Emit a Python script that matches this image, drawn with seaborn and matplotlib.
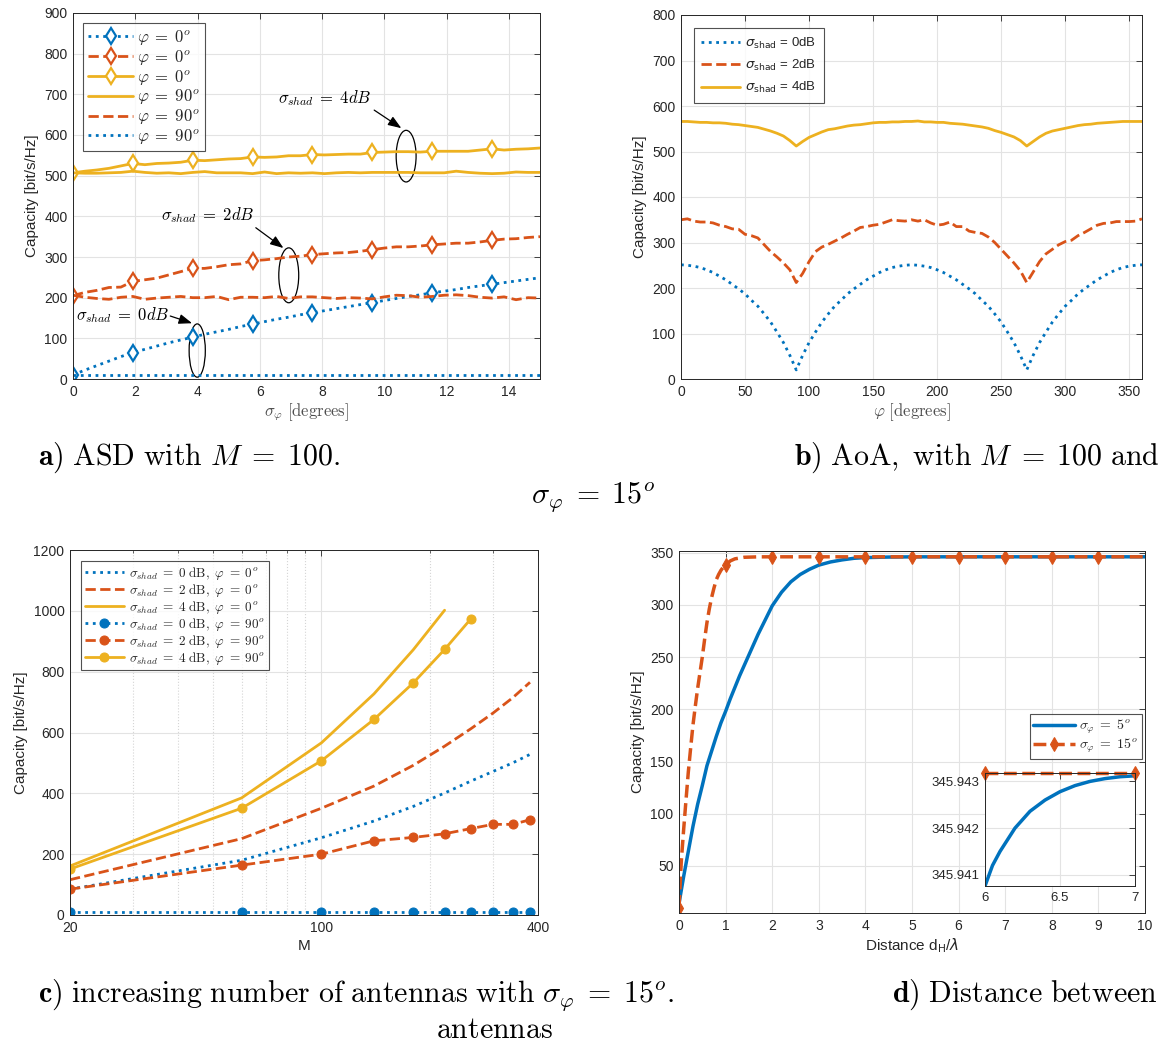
import numpy as np
import matplotlib
matplotlib.use('Agg')
import matplotlib.pyplot as plt
import seaborn as sns
from matplotlib.patches import Ellipse
from matplotlib.font_manager import FontProperties
from matplotlib.ticker import LogLocator, NullFormatter, FixedLocator, FixedFormatter

sns.set_style('white')
plt.rcParams['font.family'] = ['Liberation Sans', 'DejaVu Sans']
plt.rcParams['mathtext.fontset'] = 'cm'

BLUE = '#0072BD'
ORANGE = '#D95319'
YELLOW = '#EDB120'
DARK = '#262626'
GRID = '#e3e3e3'

# ---------------- Panel a data ----------------
asd_deg = np.linspace(0, 15, 40)
a_blue_phi0 = [10, 22, 33, 44, 55, 65, 73, 81, 89, 96, 103, 110, 116, 122, 129, 135, 141, 147, 152, 158,
               163, 168, 173, 178, 183, 188, 193, 198, 203, 207, 212, 216, 220, 225, 229, 233, 237, 241, 245, 249]
a_orange_phi0 = [205, 213, 218, 225, 226, 240, 244, 248, 256, 264, 272, 272, 276, 281, 283, 291, 293, 296, 300, 302,
                 306, 308, 310, 311, 314, 318, 322, 325, 325, 327, 330, 332, 334, 334, 337, 341, 344, 345, 348, 350]
a_yellow_phi0 = [507, 511, 514, 518, 524, 530, 527, 530, 531, 533, 538, 537, 539, 541, 542, 546, 545, 546, 549, 549,
                 552, 551, 552, 553, 553, 557, 558, 559, 559, 558, 560, 560, 560, 560, 563, 566, 563, 565, 566, 568]
a_yellow_phi90 = [507, 506, 506, 507, 508, 511, 508, 506, 507, 505, 508, 510, 507, 507, 507, 505, 509, 505, 507, 506,
                  507, 505, 507, 508, 507, 508, 508, 508, 508, 507, 507, 507, 511, 508, 506, 505, 506, 509, 508, 508]
a_orange_phi90 = [206, 201, 198, 196, 201, 203, 196, 199, 201, 203, 200, 200, 203, 195, 201, 201, 200, 203, 198, 202,
                  202, 200, 198, 200, 199, 197, 202, 206, 205, 201, 203, 206, 207, 205, 201, 199, 202, 195, 200, 199]
a_blue_phi90 = [10, 10, 10, 10, 10, 10, 10, 10, 10, 10, 10, 10, 10, 10, 10, 10, 10, 10, 10, 10,
                10, 10, 10, 10, 10, 10, 10, 10, 10, 10, 10, 10, 10, 10, 10, 10, 10, 10, 10, 10]
a_labels = [r'$\varphi\;=\;0^o$', r'$\varphi\;=\;0^o$', r'$\varphi\;=\;0^o$',
            r'$\varphi\;=\;90^o$', r'$\varphi\;=\;90^o$', r'$\varphi\;=\;90^o$']

# ---------------- Panel b data ----------------
aoa_deg = np.arange(0, 361, 5)
b_shad0 = [251, 250, 248, 245, 240, 234, 226, 218, 208, 198, 187, 173, 160, 143, 125, 103, 80, 52, 20,
           52, 80, 103, 125, 143, 160, 173, 187, 198, 208, 218, 226, 234, 240, 245, 248, 250, 251,
           250, 248, 245, 240, 234, 226, 218, 208, 198, 187, 173, 160, 143, 125, 103, 80, 52, 20,
           52, 80, 103, 125, 143, 160, 173, 187, 198, 208, 218, 226, 234, 240, 245, 248, 250, 251]
b_shad2 = [350, 352, 347, 345, 345, 343, 338, 335, 330, 329, 318, 315, 310, 295, 280, 268, 255, 240, 212,
           232, 258, 280, 290, 296, 303, 310, 318, 325, 333, 335, 338, 340, 345, 350, 348, 347, 350,
           347, 350, 343, 338, 340, 345, 335, 335, 325, 322, 320, 312, 300, 285, 270, 255, 238, 212,
           235, 258, 275, 285, 295, 302, 305, 315, 322, 330, 338, 342, 343, 346, 346, 346, 347, 352]
b_shad4 = [566, 566, 565, 564, 564, 563, 563, 562, 560, 559, 557, 555, 553, 549, 545, 540, 534, 524, 512,
           522, 531, 537, 543, 548, 550, 553, 556, 558, 559, 561, 563, 564, 564, 565, 565, 566, 566,
           567, 565, 565, 564, 564, 562, 561, 560, 558, 556, 554, 551, 546, 542, 537, 532, 524, 512,
           522, 532, 540, 545, 548, 551, 554, 557, 559, 560, 562, 563, 564, 565, 566, 566, 566, 566]
b_labels = [r'$\sigma_{\mathrm{shad}}$ = 0dB', r'$\sigma_{\mathrm{shad}}$ = 2dB', r'$\sigma_{\mathrm{shad}}$ = 4dB']

# ---------------- Panel c data ----------------
M_ant = [20, 60, 100, 140, 180, 220, 260, 300, 340, 380]
c_blue_phi0 = [85, 180, 254, 309, 357, 401, 440, 472, 500, 528]
c_orange_phi0 = [116, 251, 351, 424, 492, 555, 612, 664, 714, 765]
c_yellow_phi0 = [161, 385, 566, 727, 872, 1002]
c_blue_phi90 = [9, 9, 9, 9, 9, 9, 9, 9, 9, 9]
c_orange_phi90 = [85, 164, 200, 244, 255, 267, 284, 298, 298, 313]
c_yellow_phi90 = [151, 351, 507, 643, 763, 873, 973]
c_labels = [r'$\sigma_{shad}\;=\;0\ \mathrm{dB},\ \varphi\;=\;0^o$',
            r'$\sigma_{shad}\;=\;2\ \mathrm{dB},\ \varphi\;=\;0^o$',
            r'$\sigma_{shad}\;=\;4\ \mathrm{dB},\ \varphi\;=\;0^o$',
            r'$\sigma_{shad}\;=\;0\ \mathrm{dB},\ \varphi\;=\;90^o$',
            r'$\sigma_{shad}\;=\;2\ \mathrm{dB},\ \varphi\;=\;90^o$',
            r'$\sigma_{shad}\;=\;4\ \mathrm{dB},\ \varphi\;=\;90^o$']

# ---------------- Panel d data ----------------
d_x_5 = [0, 0.1, 0.2, 0.3, 0.4, 0.5, 0.6, 0.7, 0.8, 0.9, 1.0, 1.1, 1.2, 1.3, 1.4, 1.5, 1.6, 1.7, 1.8, 1.9, 2.0,
         2.2, 2.4, 2.6, 2.8, 3.0, 3.25, 3.5, 3.75, 4, 4.5, 5, 6, 7, 8, 9, 10]
d_cap_5 = [14, 40, 64, 88, 109, 127, 146, 160, 174, 187, 198, 210, 221, 232, 242, 252, 262, 272, 281, 290, 299,
           312, 322, 329, 334, 338, 341, 343, 344.5, 345.2, 345.7, 345.9, 345.941, 345.943, 345.9432, 345.9432,
           345.9432]
d_x_15 = [0, 0.05, 0.1, 0.15, 0.2, 0.25, 0.3, 0.35, 0.4, 0.45, 0.5, 0.55, 0.6, 0.65, 0.7, 0.75, 0.8, 0.85, 0.9,
          0.95, 1, 1.1, 1.2, 1.4, 1.7, 2, 3, 4, 5, 6, 7, 8, 9, 10]
d_cap_15 = [10, 55, 85, 113, 140, 163, 185, 203, 220, 235, 250, 267, 283, 296, 307, 316, 324, 329, 333,
            336, 338, 342, 344, 345.5, 345.9, 345.943, 345.9432, 345.9432, 345.9432, 345.9432, 345.9432,
            345.9432, 345.9432, 345.9432]
inset_x_5 = [6, 6.05, 6.1, 6.2, 6.3, 6.4, 6.5, 6.6, 6.7, 6.8, 6.9, 7]
inset_cap_5 = [345.94076, 345.94120, 345.94150, 345.94200, 345.94236, 345.94260, 345.94278,
               345.94291, 345.94300, 345.94306, 345.94310, 345.94312]
inset_x_15 = [6, 7]
inset_cap_15 = [345.94317, 345.94317]
d_labels = [r'$\sigma_\varphi\;=\;5^o$', r'$\sigma_\varphi\;=\;15^o$']

W, H = 1162, 1048
fig = plt.figure(figsize=(W / 100, H / 100), dpi=100)


def px_axes(l, t, r, b):
    return fig.add_axes([l / W, 1 - b / H, (r - l) / W, (b - t) / H])


def style_axes(ax, size=10):
    ax.tick_params(direction='in', top=True, right=True, length=4, width=0.6,
                   labelsize=size, color=DARK, labelcolor=DARK, pad=4)
    for s in ax.spines.values():
        s.set_color(DARK)
        s.set_linewidth(0.7)
    ax.grid(True, color=GRID, lw=0.8)
    ax.set_axisbelow(True)


def frame(leg):
    leg.get_frame().set_linewidth(0.8)
    leg.get_frame().set_edgecolor('#262626')


# ================= Panel a =================
axA = px_axes(73, 13, 540, 379)
mk = dict(marker='d', markevery=5, ms=8.5, mfc='white', mew=1.6)
sns.lineplot(x=asd_deg, y=a_blue_phi0, ax=axA, color=BLUE, linestyle=':', lw=2, mec=BLUE, label=a_labels[0], **mk)
sns.lineplot(x=asd_deg, y=a_orange_phi0, ax=axA, color=ORANGE, linestyle='--', lw=2, mec=ORANGE,
             label=a_labels[1], **mk)
sns.lineplot(x=asd_deg, y=a_yellow_phi0, ax=axA, color=YELLOW, linestyle='-', lw=2, mec=YELLOW,
             label=a_labels[2], **mk)
sns.lineplot(x=asd_deg, y=a_yellow_phi90, ax=axA, color=YELLOW, linestyle='-', lw=2, label=a_labels[3])
sns.lineplot(x=asd_deg, y=a_orange_phi90, ax=axA, color=ORANGE, linestyle='--', lw=2, label=a_labels[4])
sns.lineplot(x=asd_deg, y=a_blue_phi90, ax=axA, color=BLUE, linestyle=':', lw=2, label=a_labels[5])
axA.set_xlim(0, 15)
axA.set_ylim(0, 900)
axA.set_xticks(np.arange(0, 15, 2))
axA.set_yticks(np.arange(0, 901, 100))
style_axes(axA)
axA.set_xlabel(r'$\sigma_\varphi\ \mathrm{[degrees]}$', fontsize=12, color='#4d4d4d', labelpad=2)
axA.set_ylabel('Capacity [bit/s/Hz]', fontsize=11, color=DARK)
leg = axA.legend(loc='upper left', fontsize=12, frameon=True, fancybox=False,
                 handlelength=2.7, borderaxespad=0.6, labelspacing=0.05, borderpad=0.3, handletextpad=0.25)
frame(leg)

# annotations (ellipses and arrows)
for (cx, cy, w, h) in [(10.7, 548, 0.64, 127), (6.93, 255, 0.64, 135), (3.99, 70, 0.52, 131)]:
    axA.add_patch(Ellipse((cx, cy), w, h, fill=False, edgecolor='black', lw=0.9))
ann = [(r'$\sigma_{shad}\;=\;4dB$', (8.1, 690), (9.6, 665), (10.62, 613)),
       (r'$\sigma_{shad}\;=\;2dB$', (4.32, 403), (5.8, 376), (6.83, 318)),
       (r'$\sigma_{shad}\;=\;0dB$', (1.6, 157), (3.04, 157), (3.91, 135))]
for txt, tpos, tail, head in ann:
    axA.text(tpos[0], tpos[1], txt, fontsize=12, ha='center', va='center', color='black')
    axA.annotate('', xy=head, xytext=tail,
                 arrowprops=dict(arrowstyle='-|>,head_length=0.8,head_width=0.3', color='black', lw=0.9))

# ================= Panel b =================
axB = px_axes(681, 15, 1142, 379)
sns.lineplot(x=aoa_deg, y=b_shad0, ax=axB, color=BLUE, linestyle=':', lw=2, label=b_labels[0])
sns.lineplot(x=aoa_deg, y=b_shad2, ax=axB, color=ORANGE, linestyle='--', lw=2, label=b_labels[1])
sns.lineplot(x=aoa_deg, y=b_shad4, ax=axB, color=YELLOW, linestyle='-', lw=2, label=b_labels[2])
axB.set_xlim(0, 360)
axB.set_ylim(0, 800)
axB.set_xticks(np.arange(0, 351, 50))
axB.set_yticks(np.arange(0, 801, 100))
style_axes(axB)
axB.set_xlabel(r'$\varphi\ \mathrm{[degrees]}$', fontsize=12, color='#4d4d4d', labelpad=2)
axB.set_ylabel('Capacity [bit/s/Hz]', fontsize=11, color=DARK)
fpB = FontProperties(family=['Liberation Sans', 'DejaVu Sans'], size=9.5, math_fontfamily='dejavusans')
leg = axB.legend(loc='upper left', prop=fpB, frameon=True, fancybox=False,
                 handlelength=2.9, borderaxespad=0.95, labelspacing=0.55, borderpad=0.6, handletextpad=0.4)
frame(leg)

# ================= Panel c =================
axC = px_axes(70, 550, 538, 915)
sns.lineplot(x=M_ant, y=c_blue_phi0, ax=axC, color=BLUE, linestyle=':', lw=2, label=c_labels[0])
sns.lineplot(x=M_ant, y=c_orange_phi0, ax=axC, color=ORANGE, linestyle='--', lw=2, label=c_labels[1])
sns.lineplot(x=M_ant[:len(c_yellow_phi0)], y=c_yellow_phi0, ax=axC, color=YELLOW, linestyle='-', lw=2,
             label=c_labels[2])
sns.lineplot(x=M_ant, y=c_blue_phi90, ax=axC, color=BLUE, linestyle=':', lw=2, marker='o', ms=6.5,
             mec=BLUE, label=c_labels[3])
sns.lineplot(x=M_ant, y=c_orange_phi90, ax=axC, color=ORANGE, linestyle='--', lw=2, marker='o', ms=6.5,
             mec=ORANGE, label=c_labels[4])
sns.lineplot(x=M_ant[:len(c_yellow_phi90)], y=c_yellow_phi90, ax=axC, color=YELLOW, linestyle='-', lw=2,
             marker='o', ms=6.5, mec=YELLOW, label=c_labels[5])
axC.set_xscale('log')
axC.set_xlim(20, 400)
axC.set_ylim(0, 1200)
axC.set_yticks(np.arange(0, 1201, 200))
style_axes(axC)
axC.xaxis.set_major_locator(FixedLocator([20, 100, 400]))
axC.xaxis.set_major_formatter(FixedFormatter(['20', '100', '400']))
axC.xaxis.set_minor_locator(LogLocator(base=10, subs=np.arange(2, 10)))
axC.xaxis.set_minor_formatter(NullFormatter())
axC.tick_params(axis='x', which='minor', direction='in', top=True, length=2.5, width=0.5, color=DARK)
axC.grid(True, which='minor', axis='x', color='#d5d5d5', lw=0.8, linestyle=':')
axC.set_xlabel('M', fontsize=11, color=DARK, labelpad=3)
axC.set_ylabel('Capacity [bit/s/Hz]', fontsize=11, color=DARK)
leg = axC.legend(loc='upper left', fontsize=9.5, frameon=True, fancybox=False,
                 handlelength=3.0, borderaxespad=0.8, labelspacing=0.0, borderpad=0.3, handletextpad=0.4)
frame(leg)

# ================= Panel d =================
axD = px_axes(679, 551, 1145, 913)
sns.lineplot(x=d_x_5, y=d_cap_5, ax=axD, color=BLUE, linestyle='-', lw=2.5, label=d_labels[0])
mk15 = [i for i, v in enumerate(d_x_15) if float(v).is_integer() and v < 10]
sns.lineplot(x=d_x_15, y=d_cap_15, ax=axD, color=ORANGE, linestyle='--', lw=2.5, marker='d', markevery=mk15,
             ms=7, mec=ORANGE, label=d_labels[1])
axD.set_xlim(0, 10)
axD.set_ylim(5, 351.5)
axD.set_xticks(np.arange(0, 11, 1))
axD.set_yticks(np.arange(50, 351, 50))
style_axes(axD)
axD.set_xlabel(r'Distance d$_{\mathrm{H}}$/$\lambda$', fontsize=11, color=DARK, math_fontfamily='dejavusans',
               labelpad=3)
axD.set_ylabel('Capacity [bit/s/Hz]', fontsize=11, color=DARK)
leg = axD.legend(loc='upper left', bbox_to_anchor=((1030 - 679) / 466, 1 - (714 - 551) / 362), fontsize=10,
                 frameon=True, fancybox=False, handlelength=3.0, borderaxespad=0.0,
                 labelspacing=0.1, borderpad=0.25, handletextpad=0.3)
frame(leg)

axI = px_axes(985, 773, 1135, 886)
sns.lineplot(x=inset_x_5, y=inset_cap_5, ax=axI, color=BLUE, linestyle='-', lw=2.5)
sns.lineplot(x=inset_x_15, y=inset_cap_15, ax=axI, color=ORANGE, linestyle='--', lw=2.5, marker='d', ms=7,
             mec=ORANGE, clip_on=False)
axI.set_xlim(6, 7)
axI.set_ylim(345.94076, 345.94318)
axI.set_xticks([6, 6.5, 7])
axI.set_xticklabels(['6', '6.5', '7'])
axI.set_yticks([345.941, 345.942, 345.943])
axI.set_yticklabels(['345.941', '345.942', '345.943'])
style_axes(axI, size=9.5)
axI.set_facecolor('white')
if axI.get_legend():
    axI.get_legend().remove()

# ================= Captions =================
cap_kw = dict(fontsize=21.5, color='black', math_fontfamily='cm')
fig.text(38 / W, 1 - 458 / H, r'$\mathbf{a})\ \mathrm{ASD\ with}\ M\;=\;100.$', ha='left', va='center', **cap_kw)
fig.text(1160 / W, 1 - 458 / H, r'$\mathbf{b})\ \mathrm{AoA,\ with}\ M\;=\;100\ \mathrm{and}$', ha='right',
         va='center', **cap_kw)
fig.text(593 / W, 1 - 497 / H, r'$\sigma_\varphi\;=\;15^o$', ha='center', va='center', **cap_kw)
fig.text(38 / W, 1 - 995 / H,
         r'$\mathbf{c})\ \mathrm{increasing\ number\ of\ antennas\ with}\ \sigma_\varphi\;=\;15^o.$',
         ha='left', va='center', **cap_kw)
fig.text(1158 / W, 1 - 995 / H, r'$\mathbf{d})\ \mathrm{Distance\ between}$', ha='right', va='center', **cap_kw)
fig.text(495 / W, 1 - 1030 / H, r'$\mathrm{antennas}$', ha='center', va='center', **cap_kw)

fig.savefig('out.png', dpi=100, facecolor='white')
